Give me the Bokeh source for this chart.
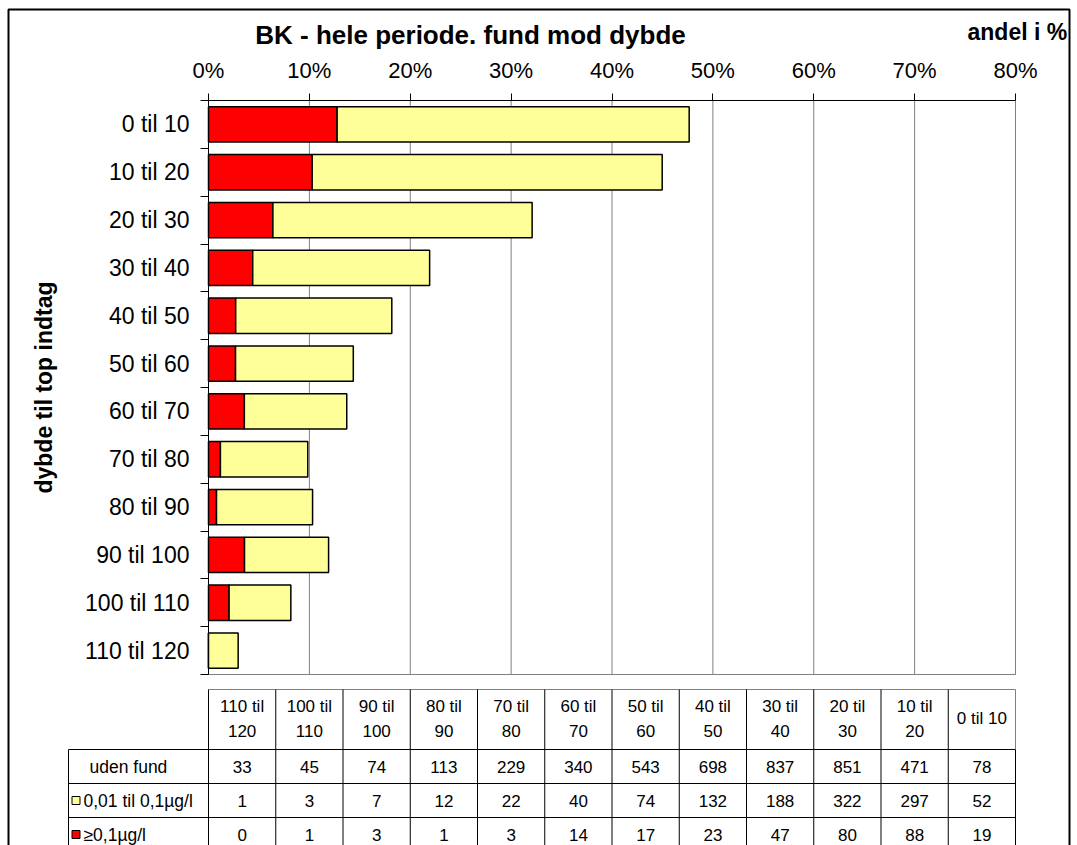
from bokeh.plotting import figure
from bokeh.models import Range1d, FixedTicker, PrintfTickFormatter, LinearAxis, ColumnDataSource
from bokeh.embed import file_html
from bokeh.resources import INLINE
from bokeh.core.properties import value

# ---------------- data ----------------
depths = ["0 til 10", "10 til 20", "20 til 30", "30 til 40", "40 til 50", "50 til 60",
          "60 til 70", "70 til 80", "80 til 90", "90 til 100", "100 til 110", "110 til 120"]
uden_fund = [78, 471, 851, 837, 698, 543, 340, 229, 113, 74, 45, 33]
fund_lav = [52, 297, 322, 188, 132, 74, 40, 22, 12, 7, 3, 1]      # 0,01 til 0,1 µg/l
fund_hoej = [19, 88, 80, 47, 23, 17, 14, 3, 1, 3, 1, 0]          # >= 0,1 µg/l
x_ticks = [0, 10, 20, 30, 40, 50, 60, 70, 80]
header_labels = ["110 til\n120", "100 til\n110", "90 til\n100", "80 til\n90", "70 til\n80",
                 "60 til\n70", "50 til\n60", "40 til\n50", "30 til\n40", "20 til\n30",
                 "10 til\n20", "0 til 10"]
row_labels = ["uden fund", "0,01 til 0,1µg/l", "≥0,1µg/l"]
title_text = "BK - hele periode. fund mod dybde"
x_title = "andel i %"
y_title = "dybde til top indtag"

# ---------------- styles / layout constants (page pixels) ----------------
FONT = "Liberation Sans"
RED = "#FF0000"
YELLOW = "#FFFF99"
GRID = "#808080"
W, H = 1077, 845
PLOT_L, PLOT_R, PLOT_T, PLOT_B = 208, 1015, 100, 674
XMAX = x_ticks[-1]
n = len(depths)
PXP = (PLOT_R - PLOT_L) / XMAX          # px per percent
RH = (PLOT_B - PLOT_T) / n              # px per depth row


def ux(px):
    return (px - PLOT_L) / PXP


def uy(py):
    return (py - PLOT_T) / RH


totals = [u + l + h for u, l, h in zip(uden_fund, fund_lav, fund_hoej)]
red_pct = [100.0 * h / t for h, t in zip(fund_hoej, totals)]
yel_end = [100.0 * (h + l) / t for h, l, t in zip(fund_hoej, fund_lav, totals)]
yc = [i + 0.5 for i in range(n)]

p = figure(width=W, height=H, x_range=Range1d(ux(0), ux(W)), y_range=Range1d(uy(H), uy(0)),
           x_axis_type=None, y_axis_type=None, output_backend="svg", toolbar_location=None,
           min_border=0, background_fill_color="white", border_fill_color="white")
p.outline_line_color = None

# plot-area frame + vertical gridlines
p.quad(left=[0], right=[XMAX], top=[0], bottom=[n], fill_color=None, line_color=GRID, line_width=1)
p.segment(x0=x_ticks[1:], x1=x_ticks[1:], y0=[0] * (len(x_ticks) - 1), y1=[n] * (len(x_ticks) - 1),
          line_color=GRID, line_width=1)

# bars
src = ColumnDataSource(dict(y=yc, zero=[0] * n, red=red_pct, yel=yel_end))
p.hbar(y="y", left="zero", right="red", height=0.74, source=src,
       fill_color=RED, line_color="black", line_width=1.5)
p.hbar(y="y", left="red", right="yel", height=0.74, source=src,
       fill_color=YELLOW, line_color="black", line_width=1.5)

# x axis (on top of plot area)
xa = LinearAxis(ticker=FixedTicker(ticks=x_ticks), formatter=PrintfTickFormatter(format="%d%%"),
                fixed_location=0, bounds=(0, XMAX))
xa.major_tick_out = 7
xa.major_tick_in = 0
xa.minor_tick_out = 0
xa.minor_tick_in = 0
xa.major_label_standoff = 11
xa.major_label_text_font = FONT
xa.major_label_text_font_size = "22px"
xa.major_label_text_color = "black"
xa.axis_line_color = "black"
xa.major_tick_line_color = "black"
p.add_layout(xa, "above")

# y axis (depth categories)
ya = LinearAxis(ticker=FixedTicker(ticks=yc, minor_ticks=list(range(n + 1))),
                fixed_location=0, bounds=(0, n))
ya.major_label_overrides = {y: d for y, d in zip(yc, depths)}
ya.major_tick_out = 0
ya.major_tick_in = 0
ya.minor_tick_out = 8
ya.minor_tick_in = 0
ya.minor_tick_line_color = "black"
ya.major_label_standoff = 11
ya.major_label_text_font = FONT
ya.major_label_text_font_size = "23px"
ya.major_label_text_color = "black"
ya.axis_line_color = "black"
ya.axis_label = y_title
ya.axis_label_text_font = FONT
ya.axis_label_text_font_size = "23px"
ya.axis_label_text_font_style = "bold"
ya.axis_label_text_color = "black"
ya.axis_label_standoff = 25
p.add_layout(ya, "left")

# titles
p.text(x=[ux(470)], y=[uy(34)], text=[title_text], text_align="center", text_baseline="middle",
       text_font=value(FONT), text_font_size="26px", text_font_style="bold", text_color="black")
p.text(x=[ux(967)], y=[uy(31)], text=[x_title], text_align="left", text_baseline="middle",
       text_font=value(FONT), text_font_size="23px", text_font_style="bold", text_color="black")

# ---------------- data table ----------------
HEAD_TOP, HEAD_BOT, ROW_H = 689, 749, 34
LABEL_L = 68
ncol = len(header_labels)
cw = XMAX / ncol
xl = ux(LABEL_L)
body_top = uy(HEAD_BOT)
rh = ROW_H / RH
body_bot = body_top + rh * len(row_labels)

hx0, hx1, hy0, hy1, hc = [0], [XMAX], [uy(HEAD_TOP)], [uy(HEAD_TOP)], [GRID]
for r in range(len(row_labels)):
    yy = body_top + rh * r
    hx0.append(xl); hx1.append(XMAX); hy0.append(yy); hy1.append(yy); hc.append("black")
p.segment(x0=hx0, x1=hx1, y0=hy0, y1=hy1, line_color=hc, line_width=1)
vx, vy0, vy1, vc = [], [], [], []
for j in range(ncol + 1):
    vx.append(j * cw); vy0.append(uy(HEAD_TOP)); vy1.append(body_top)
    vc.append(GRID if j == ncol else "black")
    vx.append(j * cw); vy0.append(body_top); vy1.append(body_bot); vc.append("black")
vx.append(xl); vy0.append(body_top); vy1.append(body_bot); vc.append("black")
p.segment(x0=vx, x1=vx, y0=vy0, y1=vy1, line_color=vc, line_width=1)

tx, ty, tt = [], [], []
for j, lbl in enumerate(header_labels):
    lines = lbl.split("\n")
    if len(lines) == 2:
        tx += [(j + 0.5) * cw] * 2
        ty += [uy(706), uy(730)]
        tt += lines
    else:
        tx.append((j + 0.5) * cw); ty.append(uy(718)); tt.append(lbl)
for r, vals in enumerate([uden_fund, fund_lav, fund_hoej]):
    for j, v in enumerate(vals[::-1]):
        tx.append((j + 0.5) * cw); ty.append(body_top + rh * (r + 0.5)); tt.append(str(v))
p.text(x=tx, y=ty, text=tt, text_align="center", text_baseline="middle",
       text_font=value(FONT), text_font_size="17px", text_color="black")

lab_x = [ux(89), ux(83), ux(83)]
lab_y = [body_top + rh * (r + 0.5) for r in range(len(row_labels))]
p.text(x=lab_x, y=lab_y, text=row_labels, text_align="left", text_baseline="middle",
       text_font=value(FONT), text_font_size="17.5px", text_color="black")
p.rect(x=[ux(75.5)] * 2, y=lab_y[1:], width=8, height=8, width_units="screen",
       height_units="screen", fill_color=[YELLOW, RED], line_color="black", line_width=1)

# chart border
p.quad(left=[ux(8)], right=[ux(1069)], top=[uy(9)], bottom=[uy(H + 20)],
       fill_color=None, line_color="black", line_width=2)

open("out.html", "w").write(file_html(p, INLINE))
